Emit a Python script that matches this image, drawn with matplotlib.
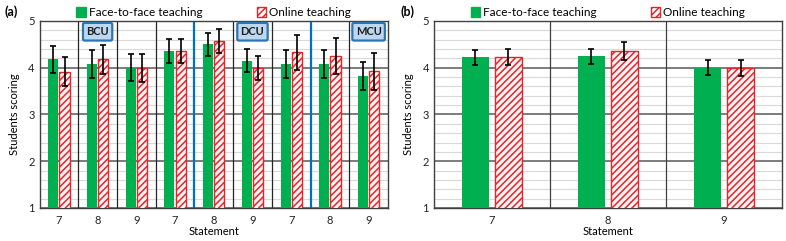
import numpy as np
import matplotlib
matplotlib.use("Agg")
import matplotlib.pyplot as plt
from matplotlib.ticker import MultipleLocator
from matplotlib.patches import Patch

plt.rcParams['font.family'] = ['Lato', 'DejaVu Sans']
plt.rcParams['hatch.color'] = '#e8232a'
plt.rcParams['hatch.linewidth'] = 1.1

# ------------------------------
# DADOS
# ------------------------------
statements_a = ["7", "8", "9", "7", "8", "9", "7", "8", "9"]
face_a = [4.18, 4.08, 4.00, 4.36, 4.50, 4.15, 4.08, 4.08, 3.83]
face_a_err = [0.29, 0.29, 0.29, 0.25, 0.25, 0.25, 0.30, 0.30, 0.30]
online_a = [3.91, 4.18, 4.00, 4.36, 4.57, 4.00, 4.33, 4.25, 3.92]
online_a_err = [0.31, 0.31, 0.30, 0.25, 0.25, 0.26, 0.38, 0.38, 0.40]

groups = ["BCU", "DCU", "MCU"]
group_label_pos = [1, 5, 8]
group_sep = [3.5, 6.5]

statements_b = ["7", "8", "9"]
face_b = [4.22, 4.25, 4.00]
face_b_err = [0.16, 0.16, 0.16]
online_b = [4.22, 4.35, 4.00]
online_b_err = [0.17, 0.19, 0.17]

GREEN = '#00b050'
RED = '#e8232a'
BLUE = '#0070c0'


def estilo_eixo(ax, n):
    ax.set_xlim(-0.5, n - 0.5)
    ax.set_ylim(1, 5)
    ax.yaxis.set_major_locator(MultipleLocator(1))
    ax.yaxis.set_minor_locator(MultipleLocator(0.2))
    ax.grid(which='major', axis='y', color='#595959', lw=1.1, zorder=0)
    ax.grid(which='minor', axis='y', color='#d9d9d9', lw=0.8, zorder=0)
    ax.tick_params(which='both', length=0, labelsize=8, colors='#222222')
    ax.tick_params(axis='x', pad=5)
    for s in ax.spines.values():
        s.set_color('#404040')
        s.set_linewidth(1.0)
    ax.set_ylabel("Students scoring", fontsize=8, labelpad=6)
    ax.set_xlabel("Statement", fontsize=8, labelpad=0)
    ax.set_axisbelow(True)


def barras(ax, face, face_err, online, online_err, width, off):
    x = np.arange(len(face))
    ax.bar(x - off, face, width, color=GREEN, zorder=3)
    ax.bar(x + off, online, width, color='#fff4f4', edgecolor=RED,
           hatch='/////', linewidth=1.0, zorder=3)
    ax.errorbar(x - off, face, yerr=face_err, fmt='none', ecolor='black',
                elinewidth=1.2, capsize=2, capthick=1.2, zorder=4)
    ax.errorbar(x + off, online, yerr=online_err, fmt='none', ecolor='black',
                elinewidth=1.2, capsize=2, capthick=1.2, zorder=4)


def legenda(ax):
    handles = [Patch(facecolor=GREEN, edgecolor=GREEN),
               Patch(facecolor='white', edgecolor=RED, hatch='/////')]
    ax.legend(handles, ["Face-to-face teaching", "Online teaching"],
              loc='lower center', bbox_to_anchor=(0.5, 0.99), ncol=2,
              frameon=False, fontsize=8.5, handlelength=0.8, handleheight=0.8,
              handletextpad=0.25, columnspacing=4.6, borderaxespad=0)


fig = plt.figure(figsize=(7.86, 2.41), dpi=100)
ax_a = fig.add_axes([0.0503, 0.137, 0.4433, 0.776])
ax_b = fig.add_axes([0.552, 0.137, 0.443, 0.776])

# ------------------------------
# PAINEL (a)
# ------------------------------
barras(ax_a, face_a, face_a_err, online_a, online_a_err, 0.26, 0.145)
estilo_eixo(ax_a, len(face_a))
ax_a.set_xticks(np.arange(len(statements_a)))
ax_a.set_xticklabels(statements_a)
for xv in [0.5, 1.5, 2.5, 4.5, 5.5, 7.5]:
    ax_a.axvline(xv, color='#262626', lw=0.9, zorder=1)
for xv in group_sep:
    ax_a.axvline(xv, color=BLUE, lw=1.6, zorder=2)
for g, p in zip(groups, group_label_pos):
    ax_a.text(p, 4.77, g, ha='center', va='center', fontsize=8,
              fontweight='bold', color='#1f1f1f', zorder=5,
              bbox=dict(boxstyle='round,pad=0.3,rounding_size=0.15',
                        facecolor='#bdd7ee', edgecolor='#2e75b6', lw=1.6))
legenda(ax_a)
fig.text(0.006, 0.95, "(a)", fontsize=9, fontweight='bold', va='center')

# ------------------------------
# PAINEL (b)
# ------------------------------
barras(ax_b, face_b, face_b_err, online_b, online_b_err, 0.23, 0.142)
estilo_eixo(ax_b, len(face_b))
ax_b.set_xticks(np.arange(len(statements_b)))
ax_b.set_xticklabels(statements_b)
for xv in [0.5, 1.5]:
    ax_b.axvline(xv, color='#404040', lw=0.9, zorder=1)
legenda(ax_b)
fig.text(0.51, 0.95, "(b)", fontsize=9, fontweight='bold', va='center')

fig.savefig("out.png", dpi=100)
